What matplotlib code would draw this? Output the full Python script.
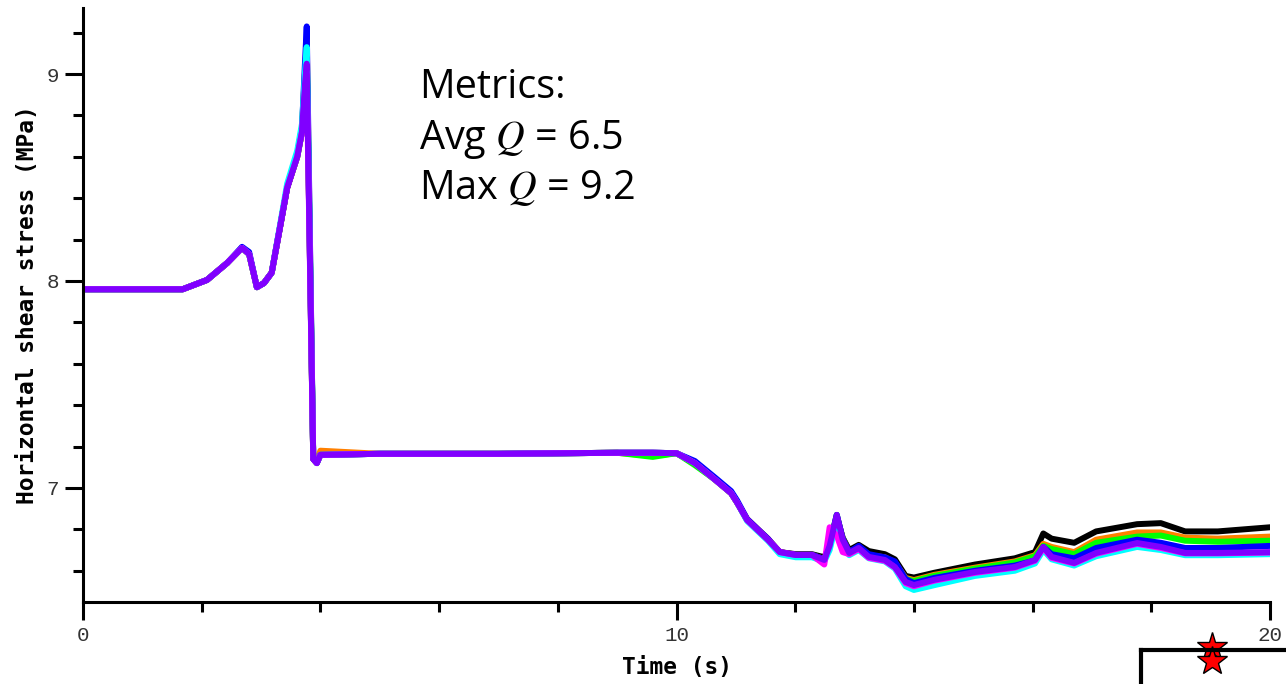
import matplotlib
matplotlib.use("Agg")
import matplotlib.pyplot as plt
from matplotlib.ticker import MultipleLocator

# time samples shared by every station record (s)
time_s = [0.0, 1.68, 2.09, 2.43, 2.68, 2.80, 2.93, 3.05, 3.18, 3.32, 3.44, 3.61,
          3.69, 3.74, 3.77, 3.88, 3.94, 4.00, 5.0, 7.0, 9.0, 9.6, 10.0, 10.31,
          10.65, 10.92, 11.02, 11.19, 11.54, 11.74, 12.01, 12.28, 12.49, 12.58,
          12.70, 12.80, 12.91, 13.07, 13.24, 13.51, 13.68, 13.86, 14.0, 14.34,
          15.03, 15.70, 16.04, 16.18, 16.32, 16.70, 17.07, 17.76, 18.16, 18.57,
          19.12, 20.0]

# horizontal shear stress (MPa), one list per run
stress_black = [7.96, 7.96, 8.005, 8.087, 8.16, 8.13, 7.97, 7.99, 8.04, 8.26, 8.45, 8.60,
                8.72, 8.95, 9.06, 7.14, 7.12, 7.16, 7.165, 7.165, 7.17, 7.17, 7.168, 7.12,
                7.04, 6.975, 6.93, 6.845, 6.75, 6.69, 6.68, 6.68, 6.665, 6.72,
                6.86, 6.76, 6.70, 6.725, 6.695, 6.68, 6.655, 6.575, 6.567, 6.59,
                6.63, 6.66, 6.69, 6.78, 6.755, 6.735, 6.79, 6.825, 6.83, 6.79,
                6.79, 6.81]
stress_orange = [7.96, 7.96, 8.005, 8.087, 8.16, 8.13, 7.97, 7.99, 8.04, 8.26, 8.45, 8.61,
                 8.74, 9.0, 9.16, 7.15, 7.13, 7.18, 7.165, 7.165, 7.17, 7.155, 7.168, 7.12,
                 7.04, 6.975, 6.93, 6.85, 6.755, 6.69, 6.678, 6.678, 6.655, 6.72,
                 6.865, 6.755, 6.69, 6.715, 6.675, 6.665, 6.64, 6.565, 6.555, 6.58,
                 6.615, 6.645, 6.675, 6.73, 6.715, 6.69, 6.75, 6.785, 6.785, 6.76,
                 6.755, 6.765]
stress_green = [7.96, 7.96, 8.005, 8.087, 8.16, 8.13, 7.97, 7.99, 8.04, 8.26, 8.45, 8.60,
                8.72, 8.96, 9.08, 7.14, 7.12, 7.16, 7.165, 7.165, 7.17, 7.15, 7.168, 7.11,
                7.04, 6.975, 6.93, 6.845, 6.75, 6.685, 6.672, 6.672, 6.65, 6.73,
                6.87, 6.75, 6.686, 6.71, 6.67, 6.66, 6.635, 6.56, 6.55, 6.575,
                6.61, 6.64, 6.67, 6.72, 6.705, 6.68, 6.735, 6.765, 6.77, 6.745,
                6.74, 6.745]
stress_blue = [7.96, 7.96, 8.005, 8.087, 8.165, 8.14, 7.97, 7.99, 8.04, 8.26, 8.45, 8.61,
               8.74, 9.05, 9.23, 7.14, 7.12, 7.16, 7.165, 7.165, 7.17, 7.17, 7.168, 7.13,
               7.05, 6.985, 6.94, 6.85, 6.755, 6.69, 6.678, 6.678, 6.655, 6.72,
               6.87, 6.755, 6.69, 6.72, 6.68, 6.665, 6.645, 6.56, 6.54, 6.565,
               6.60, 6.625, 6.65, 6.715, 6.68, 6.66, 6.71, 6.75, 6.735, 6.71,
               6.71, 6.72]
stress_cyan = [7.96, 7.96, 8.005, 8.087, 8.16, 8.13, 7.97, 7.99, 8.04, 8.27, 8.47, 8.63,
               8.76, 9.0, 9.13, 7.15, 7.12, 7.16, 7.165, 7.165, 7.17, 7.17, 7.168, 7.12,
               7.04, 6.975, 6.93, 6.84, 6.745, 6.68, 6.665, 6.665, 6.645, 6.70,
               6.84, 6.73, 6.675, 6.70, 6.66, 6.645, 6.61, 6.525, 6.507, 6.53,
               6.575, 6.60, 6.635, 6.70, 6.655, 6.625, 6.67, 6.715, 6.70, 6.675,
               6.675, 6.68]
stress_magenta = [7.96, 7.96, 8.005, 8.087, 8.16, 8.13, 7.97, 7.99, 8.04, 8.26, 8.45, 8.60,
                  8.72, 8.9, 9.0, 7.14, 7.12, 7.16, 7.165, 7.165, 7.17, 7.17, 7.168, 7.12,
                  7.04, 6.975, 6.93, 6.845, 6.75, 6.69, 6.676, 6.676, 6.63, 6.81,
                  6.77, 6.69, 6.68, 6.705, 6.662, 6.648, 6.615, 6.54, 6.525, 6.552,
                  6.59, 6.615, 6.648, 6.71, 6.662, 6.635, 6.682, 6.73, 6.71, 6.684,
                  6.684, 6.688]
stress_violet = [7.96, 7.96, 8.005, 8.087, 8.16, 8.13, 7.97, 7.99, 8.04, 8.26, 8.45, 8.60,
                 8.72, 8.95, 9.05, 7.14, 7.12, 7.16, 7.165, 7.165, 7.17, 7.17, 7.168, 7.12,
                 7.04, 6.975, 6.93, 6.845, 6.75, 6.69, 6.676, 6.676, 6.652, 6.72,
                 6.87, 6.75, 6.686, 6.71, 6.667, 6.652, 6.618, 6.546, 6.531, 6.556,
                 6.594, 6.618, 6.652, 6.715, 6.667, 6.638, 6.686, 6.734, 6.715, 6.686,
                 6.686, 6.69]

runs = [
    (stress_black, "black"),
    (stress_orange, "#ff8000"),
    (stress_green, "#00ff00"),
    (stress_blue, "#0000ff"),
    (stress_cyan, "#00ffff"),
    (stress_magenta, "#ff00ff"),
    (stress_violet, "#8000ff"),
]

# epicentre markers for the little map corner
star_x = [0.49, 0.49]
star_y = [1.09, 0.68]

fig = plt.figure(figsize=(12.86, 6.84), dpi=100)
ax = fig.add_axes([0.0645, 0.1199, 0.9231, 0.8684])

for vals, col in runs:
    ax.plot(time_s, vals, color=col, linewidth=4.3, solid_joinstyle="round")

ax.set_xlim(0, 20)
ax.set_ylim(6.449, 9.319)
ax.xaxis.set_major_locator(MultipleLocator(10))
ax.xaxis.set_minor_locator(MultipleLocator(2))
ax.yaxis.set_major_locator(MultipleLocator(1))
ax.yaxis.set_minor_locator(MultipleLocator(0.2))

for side in ["top", "right"]:
    ax.spines[side].set_visible(False)
for side in ["left", "bottom"]:
    ax.spines[side].set_linewidth(2.2)

ax.tick_params(which="major", length=13, width=2.2, direction="out", pad=4,
               labelsize=15, labelcolor="#333333")
ax.tick_params(which="minor", length=7, width=2.2, direction="out")
for lab in ax.get_xticklabels() + ax.get_yticklabels():
    lab.set_family("Liberation Mono")

ax.set_xlabel("Time (s)", family="DejaVu Sans Mono", fontweight="bold",
              fontsize=16.5, labelpad=8)
ax.set_ylabel("Horizontal shear stress (MPa)", family="DejaVu Sans Mono",
              fontweight="bold", fontsize=16.5, labelpad=6)

metrics = ["Metrics:", "Avg $Q$ = 6.5", "Max $Q$ = 9.2"]
for i, line in enumerate(metrics):
    fig.text(0.326, 0.856 - i * 0.0735, line, family="Open Sans", fontsize=28.5,
             math_fontfamily="stix", va="baseline", ha="left")

# corner of the location map
inset = fig.add_axes([1141 / 1286, 0.0, 145 / 1286, 34 / 684])
inset.set_xlim(0, 1)
inset.set_ylim(0, 1)
inset.patch.set_alpha(0)
for side in ["bottom", "right"]:
    inset.spines[side].set_visible(False)
for side in ["left", "top"]:
    inset.spines[side].set_linewidth(3)
inset.set_xticks([])
inset.set_yticks([])
inset.plot(star_x, star_y, linestyle="none", marker="*", markersize=22,
           markerfacecolor="red", markeredgecolor="black", markeredgewidth=1,
           clip_on=False)

fig.savefig("out.png", dpi=100)
